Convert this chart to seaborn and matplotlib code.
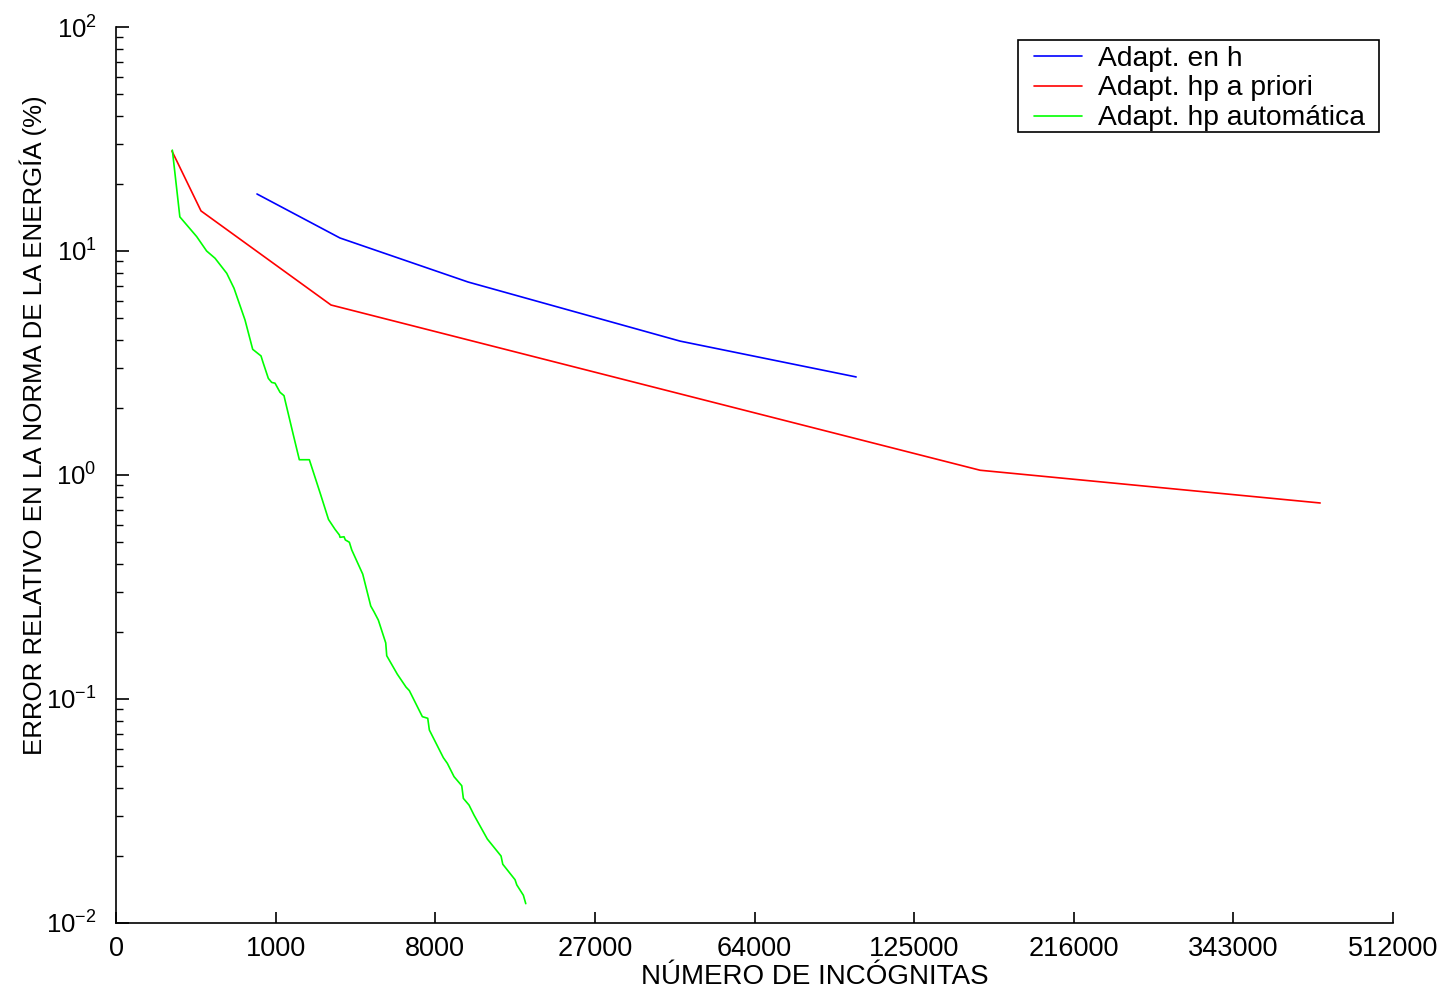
import numpy as np
import pandas as pd
import matplotlib
matplotlib.use("Agg")
import matplotlib.pyplot as plt
from matplotlib.patches import Rectangle
import seaborn as sns

# ---- data ----
h_N = [689, 2763, 10730, 44130, 99680]
h_err = [17.97, 11.43, 7.27, 3.96, 2.74]

pri_N = [43, 151, 2444, 158660, 429300]
pri_err = [27.96, 15.1, 5.74, 1.05, 0.75]

auto_N = [44, 64, 129, 183, 239, 334, 404, 528, 628, 750, 777, 869, 928, 989,
          1085, 1166, 1187, 1371, 1515, 1777, 2110, 2360, 2584, 2739, 2765, 2916,
          2966, 3124, 3221, 3693, 4065, 4224, 4439, 4825, 4879, 5475, 5999, 6206,
          7069, 7449, 7565, 8625, 8945, 9498, 10162, 10305, 10820, 11286, 12591,
          14037, 14224, 15625, 15826, 16620, 16915]
auto_err = [28.2, 14.2, 11.6, 10.0, 9.28, 7.95, 6.82, 4.92, 3.64, 3.40, 3.21, 2.70,
            2.59, 2.57, 2.34, 2.26, 2.16, 1.51, 1.17, 1.17, 0.815, 0.633, 0.572,
            0.540, 0.527, 0.530, 0.513, 0.501, 0.463, 0.361, 0.260, 0.245, 0.225,
            0.178, 0.156, 0.129, 0.113, 0.109, 0.0834, 0.0820, 0.0727, 0.0547,
            0.0516, 0.0450, 0.0410, 0.0360, 0.0336, 0.0303, 0.0237, 0.0199, 0.0183,
            0.0156, 0.0148, 0.0133, 0.0122]

labels = ["Adapt. en h", "Adapt. hp a priori", "Adapt. hp automática"]
xticks = [0, 1000, 8000, 27000, 64000, 125000, 216000, 343000, 512000]

df = pd.concat([
    pd.DataFrame({"N": h_N, "err": h_err, "serie": labels[0]}),
    pd.DataFrame({"N": pri_N, "err": pri_err, "serie": labels[1]}),
    pd.DataFrame({"N": auto_N, "err": auto_err, "serie": labels[2]}),
], ignore_index=True)

sns.set_style("ticks")
plt.rcParams["font.family"] = ["Liberation Sans", "DejaVu Sans"]
plt.rcParams["mathtext.fontset"] = "custom"
plt.rcParams["mathtext.rm"] = "Liberation Sans"
plt.rcParams["text.color"] = "black"
plt.rcParams["axes.labelcolor"] = "black"

W, H = 1446, 989
fig = plt.figure(figsize=(W / 100, H / 100), dpi=100)
ax = fig.add_axes([116 / W, 1 - 923 / H, (1393 - 116) / W, (923 - 27) / H])

sns.lineplot(data=df, x="N", y="err", hue="serie", sort=False, estimator=None,
             palette=["#0000ff", "#ff0000", "#00ff00"], linewidth=1.2, ax=ax)

ax.set_yscale("log")
ax.set_xscale("function", functions=(lambda x: np.cbrt(x), lambda x: np.power(x, 3.0)))
ax.set_xlim(0, 512000)
ax.set_ylim(1e-2, 1e2)
ax.set_xticks(xticks)
ax.set_xticklabels([str(t) for t in xticks])
ax.xaxis.set_minor_locator(matplotlib.ticker.NullLocator())

for s in ["top", "right"]:
    ax.spines[s].set_visible(False)
for s in ["left", "bottom"]:
    ax.spines[s].set_color("black")
    ax.spines[s].set_linewidth(1.2)

ax.tick_params(axis="both", which="major", direction="in", width=1.2,
               colors="black", labelcolor="black")
ax.tick_params(axis="x", which="major", length=8, pad=9, labelsize=19.5)
ax.tick_params(axis="y", which="major", length=9.5, pad=14, labelsize=18.5)
ax.tick_params(axis="y", which="minor", direction="in", length=5, width=1.0, colors="black")

ax.set_xlabel("NÚMERO DE INCÓGNITAS", fontsize=20)
ax.xaxis.set_label_coords((815 - 116) / 1277, -0.046)
ax.set_ylabel("ERROR RELATIVO EN LA NORMA DE LA ENERGÍA (%)", fontsize=18.6)
ax.yaxis.set_label_coords(-0.054, (923 - 425) / 896)

leg = ax.legend(fontsize=20.3, frameon=False,
                handlelength=1.72, handletextpad=0.55, borderpad=0, labelspacing=0.14,
                loc="upper left", bbox_to_anchor=(1034 / W, 1 - 45.5 / H),
                bbox_transform=fig.transFigure, borderaxespad=0)
for t in leg.get_texts():
    t.set_color("black")

# legend frame
fig.patches.append(Rectangle((1018 / W, 1 - 132 / H), (1379 - 1018) / W, (132 - 40) / H,
                             transform=fig.transFigure, fill=False, edgecolor="black",
                             linewidth=1.2, zorder=5))

fig.savefig("out.png", dpi=100)
